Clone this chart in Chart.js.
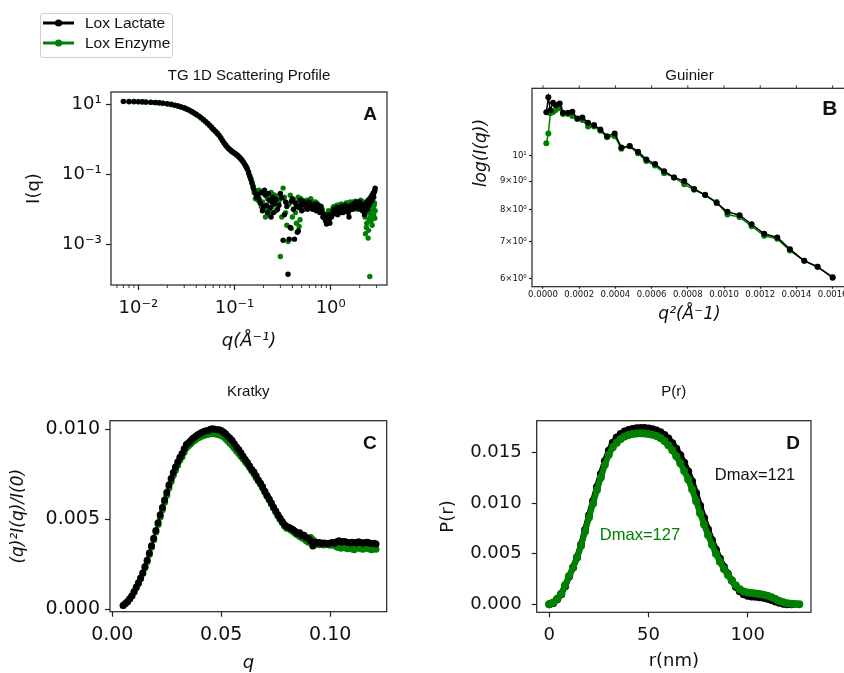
<!DOCTYPE html>
<html>
<head>
<meta charset="utf-8">
<script src="https://cdn.jsdelivr.net/npm/chart.js@4.4.1/dist/chart.umd.min.js"></script>
<style>
  html, body { margin: 0; padding: 0; background: #fff; overflow: hidden; }
  #fig { position: relative; width: 844px; height: 673px; overflow: hidden; background: #fff; }
  #fig canvas { position: absolute; }
  #legend { position: absolute; left: 40px; top: 13px; width: 133px; height: 45px; box-sizing: border-box;
            border: 1px solid #cfcfcf; border-radius: 3px; background: #fff;
            font-family: 'Liberation Sans', Arial, sans-serif; font-size: 15.5px; color: #111; }
  #legend .row { position: absolute; left: 2px; height: 20px; line-height: 20px; white-space: nowrap; }
  #legend svg { position: absolute; left: 0; top: 0; }
  #legend span { position: absolute; left: 42px; top: 0; }
</style>
</head>
<body>
<div id="fig">
  <canvas id="cA" width="420" height="300" style="left:0px;top:55px;width:420px;height:300px"></canvas>
  <canvas id="cB" width="450" height="300" style="left:420px;top:55px;width:450px;height:300px"></canvas>
  <canvas id="cC" width="420" height="300" style="left:0px;top:380px;width:420px;height:300px"></canvas>
  <canvas id="cD" width="424" height="300" style="left:420px;top:380px;width:424px;height:300px"></canvas>
  <div id="legend"></div>
</div>
<script>
// series names + colours
const seriesNames = ['Lox Lactate', 'Lox Enzyme'];
const seriesColors = ['#000000', '#008000'];

// ---- A: 1D scattering profile (log-log) ----
const qA = [0.0070, 0.0080, 0.0090, 0.0100, 0.0110, 0.0120, 0.0135, 0.0150, 0.0165, 0.0180,
  0.0200, 0.0220, 0.0240, 0.0260, 0.0280, 0.0300, 0.0320, 0.0340, 0.0360, 0.0380, 0.0400,
  0.0425, 0.0450, 0.0475, 0.0500, 0.0525, 0.0550, 0.0575, 0.0600,
  0.063, 0.066, 0.069, 0.072, 0.075, 0.078, 0.081, 0.084, 0.087, 0.090, 0.093, 0.096,
  0.100, 0.104, 0.108, 0.112, 0.116, 0.120, 0.124, 0.128, 0.132, 0.136, 0.140, 0.144, 0.148, 0.152, 0.156, 0.160,
  0.165, 0.170,
  0.18, 0.19, 0.20, 0.21, 0.22, 0.23, 0.24, 0.25, 0.26,
  0.28, 0.30, 0.32, 0.34, 0.36, 0.38, 0.40, 0.42, 0.44, 0.46, 0.48, 0.50,
  0.53, 0.56, 0.59, 0.62, 0.65, 0.68, 0.71, 0.74, 0.77, 0.80, 0.83, 0.86, 0.89, 0.92, 0.95, 0.98,
  1.02, 1.06, 1.10, 1.14, 1.18, 1.22, 1.26, 1.30,
  1.35, 1.40, 1.45, 1.50, 1.55, 1.60, 1.65, 1.70, 1.75, 1.80, 1.85, 1.90, 1.95, 2.00,
  2.05, 2.10, 2.15, 2.20, 2.25, 2.30, 2.35, 2.40, 2.45, 2.50, 2.55, 2.60, 2.65, 2.70, 2.75, 2.80, 2.85, 2.90,
  // in-between points of the noisy tail
  0.175, 0.185, 0.195, 0.205, 0.215, 0.225, 0.235, 0.245, 0.255,
  0.27, 0.29, 0.31, 0.33, 0.35, 0.37, 0.39, 0.41, 0.43, 0.45, 0.47, 0.49,
  0.515, 0.545, 0.575, 0.605, 0.635, 0.665, 0.695, 0.725, 0.755, 0.785, 0.815, 0.845, 0.875, 0.905, 0.935, 0.965, 0.995,
  1.04, 1.08, 1.12, 1.16, 1.20, 1.24, 1.28,
  1.325, 1.375, 1.425, 1.475, 1.525, 1.575, 1.625, 1.675, 1.725, 1.775, 1.825, 1.875, 1.925, 1.975,
  2.025, 2.075, 2.125, 2.175, 2.225, 2.275, 2.325, 2.375, 2.425, 2.475, 2.525, 2.575, 2.625, 2.675, 2.725, 2.775, 2.825, 2.875];
const iLactateA = [11.9, 11.8, 11.8, 11.7, 11.6, 11.5, 11.3, 11.1, 10.9, 10.6,
  10.2, 9.8, 9.3, 8.8, 8.3, 7.8, 7.2, 6.7, 6.1, 5.6, 5.1,
  4.6, 4.1, 3.6, 3.2, 2.85, 2.5, 2.2, 1.95,
  1.7, 1.5, 1.3, 1.1, 0.92, 0.78, 0.68, 0.6, 0.54, 0.5, 0.46, 0.43,
  0.40, 0.37, 0.34, 0.31, 0.28, 0.25, 0.22, 0.19, 0.165, 0.14, 0.115, 0.09, 0.07, 0.055, 0.045, 0.036,
  0.028, 0.022,
  0.020, 0.030, 0.012, 0.025, 0.008, 0.018, 0.006, 0.022, 0.014,
  0.010, 0.028, 0.0013, 0.016, 0.00014, 0.0030, 0.020, 0.0014, 0.012, 0.0024, 0.018, 0.009,
  0.014, 0.011, 0.016, 0.012, 0.010, 0.014, 0.009, 0.012, 0.008, 0.010, 0.006, 0.007, 0.0045, 0.005, 0.007, 0.004,
  0.006, 0.009, 0.008, 0.010, 0.007, 0.011, 0.009, 0.012,
  0.008, 0.010, 0.012, 0.009, 0.006, 0.011, 0.013, 0.010, 0.012, 0.015, 0.011, 0.014, 0.012, 0.016,
  0.010, 0.013, 0.009, 0.011, 0.007, 0.012, 0.015, 0.010, 0.018, 0.013, 0.020, 0.016, 0.024, 0.019, 0.028, 0.022, 0.032, 0.040,
  0.026, 0.015, 0.009, 0.035, 0.013, 0.028, 0.011, 0.016, 0.008,
  0.019, 0.013, 0.021, 0.007, 0.012, 0.0014, 0.017, 0.010, 0.015, 0.0022, 0.011, 0.013,
  0.017, 0.013, 0.010, 0.015, 0.011, 0.013, 0.011, 0.014, 0.010, 0.012, 0.008, 0.006, 0.0055, 0.0038, 0.006, 0.005, 0.0065,
  0.007, 0.010, 0.008, 0.011, 0.009, 0.010, 0.008,
  0.011, 0.009, 0.013, 0.010, 0.008, 0.012, 0.010, 0.011, 0.014, 0.012, 0.013, 0.016, 0.011, 0.013,
  0.012, 0.014, 0.011, 0.010, 0.013, 0.009, 0.014, 0.012, 0.016, 0.015, 0.017, 0.019, 0.021, 0.018, 0.024, 0.026, 0.030, 0.034];
const iEnzymeA = [11.7, 11.6, 11.6, 11.5, 11.4, 11.3, 11.1, 10.9, 10.7, 10.4,
  10.0, 9.6, 9.1, 8.6, 8.1, 7.6, 7.0, 6.5, 5.95, 5.45, 4.95,
  4.45, 3.95, 3.5, 3.1, 2.75, 2.42, 2.13, 1.88,
  1.64, 1.45, 1.26, 1.06, 0.89, 0.76, 0.66, 0.58, 0.53, 0.49, 0.45, 0.42,
  0.39, 0.36, 0.33, 0.30, 0.27, 0.24, 0.215, 0.185, 0.16, 0.135, 0.105, 0.085, 0.075, 0.060, 0.040, 0.030,
  0.020, 0.026,
  0.035, 0.012, 0.028, 0.006, 0.020, 0.010, 0.030, 0.008, 0.018,
  0.024, 0.00045, 0.040, 0.008, 0.0012, 0.025, 0.006, 0.016, 0.004, 0.022, 0.005, 0.015,
  0.010, 0.018, 0.012, 0.020, 0.014, 0.010, 0.015, 0.011, 0.009, 0.012, 0.008, 0.0055, 0.007, 0.0045, 0.009, 0.006,
  0.008, 0.011, 0.010, 0.012, 0.009, 0.013, 0.011, 0.014,
  0.010, 0.012, 0.015, 0.011, 0.013, 0.016, 0.012, 0.014, 0.011, 0.017, 0.013, 0.010, 0.015, 0.012,
  0.018, 0.014, 0.009, 0.016, 0.012, 0.0020, 0.0030, 0.0080, 0.0015, 0.0050, 0.00012, 0.0060, 0.010, 0.0035, 0.012, 0.0070, 0.015, 0.009,
  0.018, 0.030, 0.016, 0.010, 0.026, 0.007, 0.020, 0.012, 0.026,
  0.009, 0.017, 0.006, 0.022, 0.0035, 0.014, 0.0028, 0.019, 0.008, 0.013, 0.0032, 0.020,
  0.012, 0.016, 0.014, 0.011, 0.017, 0.012, 0.016, 0.010, 0.013, 0.011, 0.010, 0.007, 0.006, 0.005, 0.007, 0.008, 0.007,
  0.009, 0.012, 0.011, 0.013, 0.010, 0.012, 0.014,
  0.012, 0.011, 0.014, 0.012, 0.015, 0.013, 0.015, 0.012, 0.016, 0.014, 0.012, 0.015, 0.013, 0.016,
  0.014, 0.017, 0.012, 0.015, 0.011, 0.006, 0.009, 0.004, 0.012, 0.0025, 0.008, 0.011, 0.0045, 0.014, 0.006, 0.010, 0.013, 0.0055];
const aXTicks = [0.01, 0.1, 1];
const aXTickLabels = ['10⁻²', '10⁻¹', '10⁰'];
const aXMinorTicks = [0.006, 0.007, 0.008, 0.009, 0.02, 0.03, 0.04, 0.05, 0.06, 0.07, 0.08, 0.09,
  0.2, 0.3, 0.4, 0.5, 0.6, 0.7, 0.8, 0.9, 2, 3];
const aYTicks = [0.001, 0.1, 10];
const aYTickLabels = ['10⁻³', '10⁻¹', '10¹'];

// ---- B: Guinier ----
const q2B = [0.0000184, 0.0000295, 0.0000406, 0.0000553, 0.0000700, 0.0000922, 0.0001106, 0.0001382, 0.0001622,
  0.0001899, 0.0002175, 0.0002488, 0.0002820, 0.0003170, 0.0003540, 0.0003960, 0.0004330, 0.0004790,
  0.0005250, 0.0005710, 0.0006190, 0.0006690, 0.0007240, 0.0007800, 0.0008350, 0.0008960, 0.0009590,
  0.0010190, 0.0010860, 0.0011520, 0.0012220, 0.0012940, 0.0013640, 0.0014430, 0.0015170, 0.0016000];
const iLactateB = [11.98, 12.75, 12.09, 12.47, 12.35, 12.43, 11.96, 11.96, 12.01, 11.68, 11.73, 11.47,
  11.36, 11.16, 10.85, 10.97, 10.35, 10.41, 10.17, 9.85, 9.66, 9.38, 9.14, 9.00,
  8.71, 8.49, 8.22, 7.92, 7.81, 7.52, 7.23, 7.12, 6.78, 6.46, 6.30, 6.02];
const iEnzymeB = [10.53, 10.97, 11.93, 12.00, 12.10, 12.20, 11.90, 11.90, 11.80, 11.65, 11.60, 11.30,
  11.30, 11.10, 10.80, 10.85, 10.30, 10.40, 10.10, 9.78, 9.60, 9.30, 9.14, 8.88,
  8.68, 8.50, 8.25, 7.83, 7.75, 7.46, 7.17, 7.08, 6.74, 6.46, 6.30, 6.04];
const bXTicks = [0, 0.0002, 0.0004, 0.0006, 0.0008, 0.0010, 0.0012, 0.0014, 0.0016];
const bXTickLabels = ['0.0000', '0.0002', '0.0004', '0.0006', '0.0008', '0.0010', '0.0012', '0.0014', '0.0016'];
const bYTicks = [6, 7, 8, 9, 10];
const bYTickLabels = ['6×10⁰', '7×10⁰', '8×10⁰', '9×10⁰', '10¹'];

// ---- C: Kratky ----
const qC = [0.005, 0.006, 0.007, 0.008, 0.009, 0.010, 0.011, 0.012, 0.013, 0.014,
  0.015, 0.016, 0.017, 0.018, 0.019, 0.020, 0.021, 0.022, 0.023, 0.024,
  0.025, 0.026, 0.027, 0.028, 0.029, 0.030, 0.031, 0.032, 0.033, 0.034,
  0.035, 0.036, 0.037, 0.038, 0.039, 0.040, 0.041, 0.042, 0.043, 0.044,
  0.045, 0.046, 0.047, 0.048, 0.049, 0.050, 0.051, 0.052, 0.053, 0.054,
  0.055, 0.056, 0.057, 0.058, 0.059, 0.060, 0.061, 0.062, 0.063, 0.064,
  0.065, 0.066, 0.067, 0.068, 0.069, 0.070, 0.071, 0.072, 0.073, 0.074,
  0.075, 0.076, 0.077, 0.078, 0.079, 0.080, 0.081, 0.082, 0.083, 0.084,
  0.085, 0.086, 0.087, 0.088, 0.089, 0.090, 0.091, 0.092, 0.093, 0.094,
  0.095, 0.096, 0.097, 0.098, 0.099, 0.100, 0.101, 0.102, 0.103, 0.104,
  0.105, 0.106, 0.107, 0.108, 0.109, 0.110, 0.111, 0.112, 0.113, 0.114,
  0.115, 0.116, 0.117, 0.118, 0.119, 0.120, 0.121];
const kLactateC = [0.00020, 0.00030, 0.00042, 0.00057, 0.00074, 0.00098, 0.00122, 0.00146, 0.00172, 0.00202,
  0.00236, 0.00272, 0.00312, 0.00352, 0.00394, 0.00437, 0.00480, 0.00524, 0.00565, 0.00607,
  0.00648, 0.00690, 0.00727, 0.00760, 0.00790, 0.00818, 0.00845, 0.00866, 0.00892, 0.00915,
  0.00925, 0.00938, 0.00950, 0.00958, 0.00968, 0.00976, 0.00982, 0.00988, 0.00992, 0.00994,
  0.01000, 0.01003, 0.01001, 0.00997, 0.00998, 0.00993, 0.00985, 0.00975, 0.00962, 0.00950,
  0.00938, 0.00920, 0.00902, 0.00888, 0.00870, 0.00850, 0.00832, 0.00815, 0.00796, 0.00777,
  0.00762, 0.00742, 0.00718, 0.00700, 0.00680, 0.00655, 0.00632, 0.00612, 0.00590, 0.00567,
  0.00546, 0.00525, 0.00505, 0.00487, 0.00470, 0.00459, 0.00455, 0.00448, 0.00441, 0.00432,
  0.00420, 0.00425, 0.00408, 0.00410, 0.00398, 0.00392, 0.00378, 0.00350, 0.00372, 0.00368,
  0.00370, 0.00365, 0.00368, 0.00366, 0.00362, 0.00368, 0.00370, 0.00366, 0.00374, 0.00380,
  0.00372, 0.00376, 0.00374, 0.00370, 0.00368, 0.00372, 0.00370, 0.00368, 0.00374, 0.00370,
  0.00366, 0.00370, 0.00372, 0.00368, 0.00364, 0.00366, 0.00362];
const kEnzymeC = [0.00019, 0.00029, 0.00041, 0.00055, 0.00072, 0.00095, 0.00118, 0.00142, 0.00168, 0.00197,
  0.00230, 0.00265, 0.00304, 0.00344, 0.00386, 0.00428, 0.00470, 0.00512, 0.00553, 0.00594,
  0.00633, 0.00674, 0.00710, 0.00744, 0.00772, 0.00800, 0.00828, 0.00848, 0.00872, 0.00896,
  0.00908, 0.00920, 0.00932, 0.00940, 0.00950, 0.00956, 0.00962, 0.00966, 0.00970, 0.00972,
  0.00976, 0.00978, 0.00976, 0.00972, 0.00970, 0.00965, 0.00958, 0.00948, 0.00935, 0.00922,
  0.00910, 0.00895, 0.00880, 0.00866, 0.00850, 0.00836, 0.00820, 0.00805, 0.00788, 0.00770,
  0.00752, 0.00730, 0.00712, 0.00695, 0.00672, 0.00650, 0.00628, 0.00606, 0.00585, 0.00562,
  0.00540, 0.00518, 0.00498, 0.00480, 0.00462, 0.00450, 0.00446, 0.00438, 0.00430, 0.00420,
  0.00412, 0.00404, 0.00396, 0.00390, 0.00380, 0.00372, 0.00398, 0.00385, 0.00376, 0.00360,
  0.00358, 0.00362, 0.00356, 0.00360, 0.00358, 0.00355, 0.00360, 0.00352, 0.00345, 0.00342,
  0.00338, 0.00344, 0.00340, 0.00336, 0.00342, 0.00334, 0.00330, 0.00338, 0.00342, 0.00336,
  0.00332, 0.00340, 0.00338, 0.00334, 0.00330, 0.00336, 0.00332];
const cXTicks = [0, 0.05, 0.10];
const cXTickLabels = ['0.00', '0.05', '0.10'];
const cYTicks = [0, 0.005, 0.010];
const cYTickLabels = ['0.000', '0.005', '0.010'];

// ---- D: P(r) ----
const rD = [0, 2, 4, 6, 8, 10, 12, 14, 16, 18, 20, 22, 24, 26, 28, 30, 32, 34, 36, 38,
  40, 42, 44, 46, 48, 50, 52, 54, 56, 58, 60, 62, 64, 66, 68, 70, 72, 74, 76, 78,
  80, 82, 84, 86, 88, 90, 92, 94, 96, 98, 100, 102, 104, 106, 108, 110, 112, 114, 116, 118,
  120, 122, 124, 126];
const pLactateD = [0, 0.00014, 0.00050, 0.00100, 0.00180, 0.00275, 0.00365, 0.00465, 0.00590, 0.00735,
  0.00880, 0.01020, 0.01160, 0.01290, 0.01415, 0.01520, 0.01600, 0.01650, 0.01685, 0.01710,
  0.01725, 0.01735, 0.01742, 0.01745, 0.01744, 0.01740, 0.01732, 0.01720, 0.01702, 0.01675,
  0.01640, 0.01595, 0.01540, 0.01475, 0.01400, 0.01315, 0.01215, 0.01100, 0.00975, 0.00855,
  0.00740, 0.00635, 0.00540, 0.00450, 0.00370, 0.00300, 0.00235, 0.00175, 0.00130, 0.00100,
  0.00085, 0.00078, 0.00074, 0.00070, 0.00064, 0.00055, 0.00042, 0.00028, 0.00015, 0.00006,
  0.00001, 0, null, null];
const pEnzymeD = [0, 0.00017, 0.00055, 0.00105, 0.00190, 0.00280, 0.00365, 0.00460, 0.00580, 0.00720,
  0.00860, 0.00995, 0.01130, 0.01255, 0.01380, 0.01480, 0.01555, 0.01600, 0.01635, 0.01660,
  0.01675, 0.01685, 0.01690, 0.01692, 0.01690, 0.01685, 0.01678, 0.01665, 0.01645, 0.01615,
  0.01575, 0.01525, 0.01465, 0.01395, 0.01320, 0.01235, 0.01135, 0.01020, 0.00900, 0.00790,
  0.00685, 0.00590, 0.00500, 0.00420, 0.00350, 0.00290, 0.00235, 0.00185, 0.00150, 0.00128,
  0.00117, 0.00112, 0.00108, 0.00102, 0.00095, 0.00085, 0.00070, 0.00052, 0.00034, 0.00020,
  0.00010, 0.00005, 0.00002, 0];
const dXTicks = [0, 50, 100];
const dXTickLabels = ['0', '50', '100'];
const dYTicks = [0, 0.005, 0.010, 0.015];
const dYTickLabels = ['0.000', '0.005', '0.010', '0.015'];

// ---------------------------------------------------------------
const INK = '#111';
const TICK_FONT = { family: 'DejaVu Sans', size: 18 };

function pts(xs, ys) {
  return xs.map((x, i) => ({ x: x, y: ys[i] }));
}

// one axis; sizes fixed with afterFit so the plot boxes land where the figure has them
function axis(o) {
  return {
    type: o.type || 'linear',
    position: o.pos,
    min: o.min,
    max: o.max,
    afterBuildTicks: s => { s.ticks = o.ticks.map(v => ({ value: v })); },
    afterFit: s => { if (o.pos === 'bottom') s.height = o.size; else s.width = o.size; },
    ticks: {
      callback: (v, i) => o.labels[i],
      font: o.tickFont || TICK_FONT,
      color: INK,
      padding: o.pad,
      autoSkip: false,
      maxRotation: 0
    },
    grid: { drawOnChartArea: false, tickLength: o.tl, tickColor: '#222', tickWidth: 1.2 },
    border: { display: false },
    title: {
      display: !!o.title,
      text: o.title,
      color: INK,
      font: o.titleFont || { family: 'DejaVu Sans', size: 18 },
      padding: o.titlePad || 0
    }
  };
}

// frame round the axes, extra tick marks and the in-plot texts
function frame(cfg) {
  return {
    id: 'frame',
    afterDraw(chart) {
      const ctx = chart.ctx, a = chart.chartArea, sx = chart.scales.x;
      ctx.save();
      ctx.strokeStyle = '#222';
      ctx.lineWidth = 1.2;
      ctx.strokeRect(a.left, a.top, a.right - a.left, a.bottom - a.top);
      ctx.lineWidth = 0.9;
      (cfg.minorX || []).forEach(v => {
        const x = sx.getPixelForValue(v);
        ctx.beginPath(); ctx.moveTo(x, a.bottom); ctx.lineTo(x, a.bottom + 3); ctx.stroke();
      });
      (cfg.topTicks || []).forEach(v => {
        const x = sx.getPixelForValue(v);
        ctx.beginPath(); ctx.moveTo(x, a.top); ctx.lineTo(x, a.top - 3); ctx.stroke();
      });
      (cfg.notes || []).forEach(n => {
        ctx.save();
        ctx.font = n.font;
        ctx.fillStyle = n.color || INK;
        ctx.textAlign = n.align || 'center';
        ctx.textBaseline = 'middle';
        ctx.translate((n.fromRight ? a.right : a.left) + n.dx, a.top + n.dy);
        if (n.rot) ctx.rotate(n.rot);
        ctx.fillText(n.text, 0, 0);
        ctx.restore();
      });
      ctx.restore();
    }
  };
}

function panelTitle(text, top, bottom) {
  return {
    display: true, text: text, fullSize: false, color: INK,
    font: { family: 'Liberation Sans', size: 15, weight: 'normal' },
    padding: { top: top, bottom: bottom }
  };
}

function baseOptions(pad, title, scales) {
  return {
    responsive: false,
    animation: false,
    devicePixelRatio: 1,
    layout: { padding: pad },
    plugins: { legend: { display: false }, tooltip: { enabled: false }, title: title },
    scales: scales
  };
}

function dots(xs, ys, color, r, line) {
  return {
    data: pts(xs, ys),
    showLine: !!line,
    borderColor: color,
    borderWidth: line || 0,
    pointRadius: r,
    pointBackgroundColor: color,
    pointBorderColor: color,
    pointBorderWidth: 0,
    pointHoverRadius: r
  };
}

// A
new Chart(document.getElementById('cA'), {
  type: 'scatter',
  data: { datasets: [
    dots(qA, iLactateA, seriesColors[0], 2.7),
    dots(qA, iEnzymeA, seriesColors[1], 2.7)
  ] },
  options: baseOptions({ left: 0, right: 33, top: 0, bottom: 0 },
    panelTitle('TG 1D Scattering Profile', 11.7, 7.3), {
      x: axis({ type: 'logarithmic', pos: 'bottom', min: 0.0052, max: 3.85, ticks: aXTicks, labels: aXTickLabels,
        size: 70, tl: 5, pad: 7.5, title: 'q(Å⁻¹)',
        titleFont: { family: 'DejaVu Sans', size: 18, style: 'italic' }, titlePad: { top: 0, bottom: 2.5 } }),
      y: axis({ type: 'logarithmic', pos: 'left', min: 6.9e-5, max: 22, ticks: aYTicks, labels: aYTickLabels,
        size: 111, tl: 5, pad: 4.3, title: 'I(q)', titlePad: { top: 23.2, bottom: 0 } })
    }),
  plugins: [frame({ minorX: aXMinorTicks, notes: [
    { text: 'A', font: 'bold 19px "Liberation Sans"', fromRight: true, dx: -10, dy: 23, align: 'right' }
  ] })]
});

// B
new Chart(document.getElementById('cB'), {
  type: 'scatter',
  data: { datasets: [
    dots(q2B, iLactateB, seriesColors[0], 3, 1.5),
    dots(q2B, iEnzymeB, seriesColors[1], 3, 1.5)
  ] },
  options: baseOptions({ left: 0, right: 23, top: 0, bottom: 0 },
    panelTitle('Guinier', 11.7, 3.6), {
      x: axis({ pos: 'bottom', min: -0.0000607, max: 0.0016793, ticks: bXTicks, labels: bXTickLabels,
        size: 68.3, tl: 2, pad: 1, tickFont: { family: 'DejaVu Sans', size: 8.5 }, title: 'q²(Å⁻1)',
        titleFont: { family: 'DejaVu Sans', size: 17, style: 'italic' }, titlePad: { top: 0, bottom: 29.8 } }),
      y: axis({ type: 'logarithmic', pos: 'left', min: 5.80, max: 13.24, ticks: bYTicks, labels: bYTickLabels,
        size: 112, tl: 3, pad: 2.3, tickFont: { family: 'DejaVu Sans', size: 8.5 } })
    }),
  plugins: [frame({ topTicks: bXTicks, notes: [
    { text: 'B', font: 'bold 21px "Liberation Sans"', fromRight: true, dx: -9.7, dy: 21.2, align: 'right' },
    { text: 'log(I(q))', font: 'italic 17px "DejaVu Sans"', dx: -50, dy: 64.7, rot: -Math.PI / 2 }
  ] })]
});

// C
new Chart(document.getElementById('cC'), {
  type: 'scatter',
  data: { datasets: [
    dots(qC, kLactateC, seriesColors[0], 3.5, 1.5),
    dots(qC, kEnzymeC, seriesColors[1], 3.5, 1.5)
  ] },
  options: baseOptions({ left: 0, right: 33.3, top: 0, bottom: 0 },
    panelTitle('Kratky', 3, 19.7), {
      x: axis({ pos: 'bottom', min: -0.00105, max: 0.1259, ticks: cXTicks, labels: cXTickLabels,
        size: 68.3, tl: 5, pad: 7.4, tickFont: { family: 'DejaVu Sans', size: 19 }, title: 'q',
        titleFont: { family: 'DejaVu Sans', size: 18, style: 'italic' }, titlePad: { top: 0, bottom: 5.4 } }),
      y: axis({ pos: 'left', min: -0.00015, max: 0.01048, ticks: cYTicks, labels: cYTickLabels,
        size: 110, tl: 5, pad: 5, tickFont: { family: 'DejaVu Sans', size: 19 }, title: '(q)²I(q)/I(0)',
        titleFont: { family: 'DejaVu Sans', size: 17, style: 'italic' }, titlePad: { top: 8.8, bottom: 0 } })
    }),
  plugins: [frame({ notes: [
    { text: 'C', font: 'bold 19px "Liberation Sans"', fromRight: true, dx: -10, dy: 22.6, align: 'right' }
  ] })]
});

// D (green drawn on top)
new Chart(document.getElementById('cD'), {
  type: 'scatter',
  data: { datasets: [
    dots(rD, pEnzymeD, seriesColors[1], 4, 6),
    dots(rD, pLactateD, seriesColors[0], 4, 6)
  ] },
  options: baseOptions({ left: 0, right: 33, top: 0, bottom: 0 },
    panelTitle('P(r)', 2.7, 20), {
      x: axis({ pos: 'bottom', min: -6.35, max: 131.9, ticks: dXTicks, labels: dXTickLabels,
        size: 67.7, tl: 5, pad: 7.4, title: 'r(nm)', titlePad: { top: 0, bottom: 7.7 } }),
      y: axis({ pos: 'left', min: -0.00079, max: 0.01817, ticks: dYTicks, labels: dYTickLabels,
        size: 116.7, tl: 5, pad: 10, title: 'P(r)', titlePad: { top: 17.5, bottom: 0 } })
    }),
  plugins: [frame({ notes: [
    { text: 'D', font: 'bold 19px "Liberation Sans"', fromRight: true, dx: -11, dy: 22.6, align: 'right' },
    { text: 'Dmax=121', font: '16.5px "Liberation Sans"', color: '#111', dx: 218.3, dy: 54.3 },
    { text: 'Dmax=127', font: '16.5px "Liberation Sans"', color: seriesColors[1], dx: 103.3, dy: 115 }
  ] })]
});

// shared legend (top left of the figure)
const legend = document.getElementById('legend');
seriesNames.forEach((name, i) => {
  const row = document.createElement('div');
  row.className = 'row';
  row.style.top = (i === 0 ? -1 : 19) + 'px';
  row.innerHTML = '<svg width="31" height="20"><line x1="0" y1="10" x2="31" y2="10" stroke="' + seriesColors[i] +
    '" stroke-width="3"/><circle cx="15.5" cy="10" r="3.6" fill="' + seriesColors[i] + '"/></svg><span></span>';
  row.querySelector('span').textContent = name;
  legend.appendChild(row);
});
</script>
</body>
</html>
